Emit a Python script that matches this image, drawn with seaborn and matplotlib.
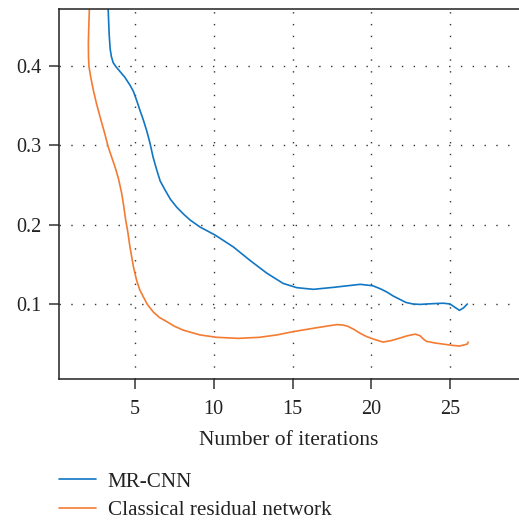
import numpy as np
import pandas as pd
import matplotlib
matplotlib.use("Agg")
import matplotlib.pyplot as plt
import seaborn as sns

# ---- data ----
series_names = ["MR-CNN", "Classical residual network"]

mrcnn_x = [3.28, 3.30, 3.36, 3.42, 3.50, 3.62, 3.80, 4.05, 4.35, 4.68, 4.90, 5.10,
           5.30, 5.53, 5.75, 5.95, 6.15, 6.38, 6.60, 6.90, 7.25, 7.65, 8.10, 8.49,
           9.13, 10.08, 11.24, 12.3, 13.36, 14.4, 15.27, 16.33, 17.6, 18.5, 19.3,
           20.1, 20.6, 21.0, 21.4, 21.8, 22.2, 22.65, 23.1, 23.5, 24.0, 24.55, 24.8,
           25.0, 25.3, 25.6, 25.85, 26.1]
mrcnn_y = [0.50, 0.47, 0.44, 0.422, 0.412, 0.404, 0.399, 0.393, 0.386, 0.376, 0.368,
           0.357, 0.345, 0.332, 0.318, 0.303, 0.285, 0.269, 0.255, 0.244, 0.232, 0.222,
           0.213, 0.206, 0.197, 0.187, 0.172, 0.155, 0.139, 0.126, 0.1206, 0.1185,
           0.121, 0.123, 0.1248, 0.123, 0.119, 0.115, 0.110, 0.106, 0.102, 0.100,
           0.0995, 0.100, 0.1005, 0.101, 0.1005, 0.100, 0.096, 0.092, 0.095, 0.100]

crn_x = [2.12, 2.10, 2.06, 2.04, 2.05, 2.08, 2.20, 2.35, 2.55, 2.78, 3.05, 3.30,
         3.52, 3.73, 3.95, 4.15, 4.28, 4.40, 4.55, 4.68, 4.90, 5.10, 5.30, 5.53,
         5.80, 6.16, 6.55, 7.00, 7.50, 8.07, 9.13, 10.19, 11.56, 12.9, 14.0, 15.0,
         16.5, 17.8, 18.2, 18.5, 18.9, 19.3, 19.7, 20.1, 20.75, 21.3, 21.8, 22.3,
         22.8, 23.1, 23.3, 23.5, 24.0, 24.55, 25.1, 25.6, 26.1, 26.15]
crn_y = [0.50, 0.47, 0.445, 0.429, 0.41, 0.399, 0.385, 0.370, 0.353, 0.336, 0.317,
         0.298, 0.285, 0.273, 0.258, 0.240, 0.224, 0.207, 0.190, 0.172, 0.147, 0.130,
         0.118, 0.109, 0.099, 0.090, 0.083, 0.078, 0.072, 0.067, 0.061, 0.058,
         0.0567, 0.058, 0.061, 0.065, 0.070, 0.074, 0.0735, 0.072, 0.068, 0.063,
         0.059, 0.056, 0.052, 0.054, 0.057, 0.060, 0.062, 0.060, 0.056, 0.053, 0.051,
         0.0495, 0.048, 0.047, 0.0495, 0.052]

x_ticks = [5, 10, 15, 20, 25]
y_ticks = [0.1, 0.2, 0.3, 0.4]
y_tick_labels = ["0.1", "0.2", "0.3", "0.4"]
x_label = "Number of iterations"

colors = ["#1176C4", "#F47B32"]

df = pd.DataFrame({
    "x": mrcnn_x + crn_x,
    "y": mrcnn_y + crn_y,
    "series": [series_names[0]] * len(mrcnn_x) + [series_names[1]] * len(crn_x),
})

sns.set_style("ticks")
plt.rcParams["font.family"] = ["Liberation Serif", "DejaVu Serif"]
plt.rcParams["lines.solid_joinstyle"] = "round"

W, H = 519, 522
fig = plt.figure(figsize=(W / 100, H / 100), dpi=100)
ax = fig.add_axes([59 / W, 1 - 379 / H, 1 - 59 / W, (379 - 9) / H])

sns.lineplot(data=df, x="x", y="y", hue="series", palette=colors, sort=False,
             estimator=None, units="series", ax=ax, linewidth=1.2, legend=False)

ax.set_xlim(0.175, 29.38)
ax.set_ylim(0.00546, 0.4719)
ax.set_xticks(x_ticks)
ax.set_yticks(y_ticks)
ax.set_yticklabels(y_tick_labels)

ax.grid(True, color="#333333", linewidth=1.0, linestyle=(0, (1, 7.5)))
ax.set_axisbelow(True)

for s in ["left", "bottom", "top"]:
    ax.spines[s].set_linewidth(1.1)
    ax.spines[s].set_color("#222222")
ax.spines["right"].set_visible(False)

ax.tick_params(axis="both", direction="out", length=7, width=1.1, color="#333333",
               labelsize=14.5, labelcolor="#222222")
ax.tick_params(axis="y", pad=5.5)
ax.tick_params(axis="x", pad=8)

ax.set_xlabel(x_label, fontsize=15.5, color="#222222", labelpad=8.5)
ax.set_ylabel("")

handles = [plt.Line2D([], [], color=c, linewidth=1.2) for c in colors]
fig.legend(handles, series_names, loc="upper left",
           bbox_to_anchor=(59 / W, 1 - 472 / H), frameon=False, borderpad=0,
           borderaxespad=0, handlelength=1.75, handletextpad=0.55, labelspacing=0.4,
           prop={"size": 15.2}, labelcolor="#222222")

fig.savefig("out.png", dpi=100)
